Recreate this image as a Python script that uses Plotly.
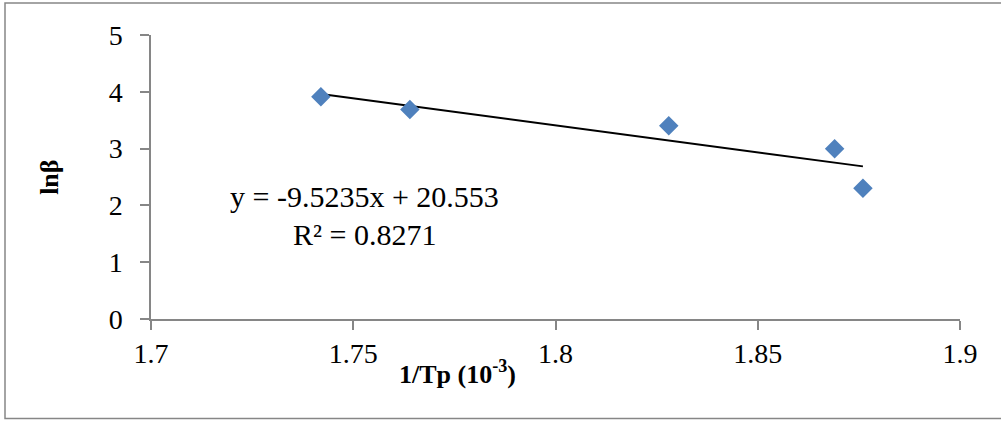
import numpy as np
import plotly.graph_objects as go

# Data
inv_tp = [1.742, 1.764, 1.828, 1.869, 1.876]   # 1/Tp (10^-3)
ln_beta = [3.912, 3.689, 3.401, 2.996, 2.303]  # ln(beta)
x_ticks = [1.7, 1.75, 1.8, 1.85, 1.9]
y_ticks = [0, 1, 2, 3, 4, 5]
eq_text = "y = -9.5235x + 20.553"
r2_text = "R² = 0.8271"

slope, intercept = np.polyfit(inv_tp, ln_beta, 1)
xl = np.array([min(inv_tp), max(inv_tp)])
yl = slope * xl + intercept

# plot area in pixels
L, R, T, B = 151, 960, 35, 319.3
W, H = R - L, B - T


def px(x):
    return (x - L) / W


def py(y):
    return (B - y) / H


fig = go.Figure()
fig.add_trace(go.Scatter(x=xl, y=yl, mode="lines",
                         line=dict(color="black", width=2), showlegend=False,
                         hoverinfo="skip"))
fig.add_trace(go.Scatter(x=inv_tp, y=ln_beta, mode="markers",
                         marker=dict(symbol="diamond", size=15, color="#4F81BD"),
                         showlegend=False))

font = "Liberation Serif, Times New Roman, serif"
axis_col = "#868686"
ann = dict(xref="paper", yref="paper", showarrow=False,
           xanchor="center", yanchor="middle")
fig.update_layout(
    width=1001, height=421,
    margin=dict(l=L, r=1001 - R, t=T, b=421 - B),
    paper_bgcolor="white", plot_bgcolor="white",
    font=dict(family=font, size=28, color="black"),
    xaxis=dict(range=[1.7, 1.9], tickvals=x_ticks,
               ticktext=[f"{v:g}" for v in x_ticks],
               tickfont=dict(family=font, size=28, color="black"),
               showgrid=False, zeroline=False, showline=True,
               linecolor=axis_col, linewidth=1.5,
               ticks="outside", ticklen=9, tickcolor=axis_col, tickwidth=1.5),
    yaxis=dict(range=[0, 5], tickvals=y_ticks,
               tickfont=dict(family=font, size=28, color="black"),
               ticklabelstandoff=12,
               showgrid=False, zeroline=False, showline=True,
               linecolor=axis_col, linewidth=1.5,
               ticks="outside", ticklen=9, tickcolor=axis_col, tickwidth=1.5),
    shapes=[dict(type="rect", xref="paper", yref="paper",
                 x0=px(5), x1=px(1010), y0=py(419), y1=py(3),
                 line=dict(color=axis_col, width=1.5))],
    annotations=[
        dict(ann, text=eq_text, x=px(364), y=py(197),
             font=dict(family=font, size=30, color="black")),
        dict(ann, text=r2_text, x=px(364), y=py(235),
             font=dict(family=font, size=30, color="black")),
        dict(ann, text="<b>1/Tp (10<sup>-3</sup>)</b>", x=px(457), y=py(373),
             font=dict(family=font, size=26, color="black")),
        dict(ann, text="<b>lnβ</b>", x=px(50), y=py(178), textangle=-90,
             font=dict(family=font, size=26, color="black")),
    ],
)

fig.write_html("out.html", config={"displayModeBar": False},
               post_script="document.body.style.margin='0';document.body.style.overflow='hidden';")
